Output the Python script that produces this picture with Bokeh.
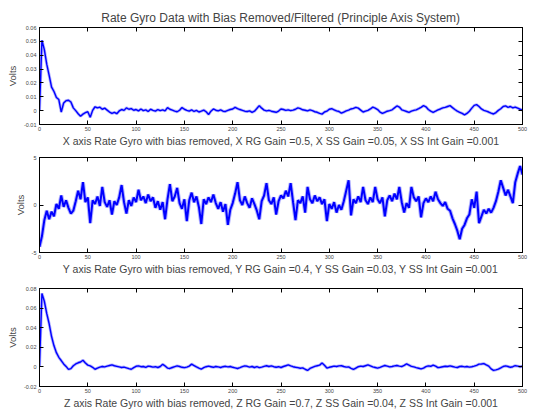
import numpy as np
from bokeh.plotting import figure
from bokeh.layouts import column
from bokeh.models import LinearAxis, FixedTicker, CustomJSTickFormatter, Label, Range1d
from bokeh.embed import file_html
from bokeh.resources import INLINE

# ---------------- data ----------------
t_start, t_step = 0.0, 2.5   # sample grid of the series below

x_gyro = [
    0.0000, 0.0508, 0.0440, 0.0335, 0.0255, 0.0170, 0.0138, 0.0095, 0.0080, -0.0010,
    0.0055, 0.0072, 0.0075, 0.0062, 0.0020, 0.0000, -0.0022, -0.0040, -0.0025, -0.0015,
    -0.0008, -0.0048, 0.0002, 0.0028, 0.0020, 0.0025, 0.0010, 0.0018, 0.0004, -0.0010,
    -0.0020, -0.0012, -0.0022, -0.0002, 0.0008, 0.0002, 0.0020, 0.0010, 0.0015, 0.0003,
    0.0008, -0.0002, 0.0012, 0.0000, 0.0006, -0.0006, 0.0010, 0.0002, -0.0004, 0.0008,
    0.0000, 0.0006, -0.0002, 0.0022, 0.0010, 0.0004, -0.0003, -0.0008, 0.0003, 0.0022,
    0.0010, 0.0002, -0.0004, 0.0005, -0.0006, 0.0002, -0.0010, -0.0004, 0.0004, -0.0008,
    -0.0028, -0.0004, 0.0012, 0.0003, -0.0002, 0.0005, -0.0004, -0.0006, 0.0002, 0.0008,
    0.0012, 0.0024, 0.0015, 0.0008, 0.0002, -0.0004, -0.0006, -0.0002, -0.0012, -0.0004,
    0.0015, 0.0036, 0.0018, 0.0004, -0.0002, 0.0002, -0.0004, -0.0008, -0.0012, -0.0003,
    0.0012, 0.0008, 0.0002, 0.0006, 0.0000, 0.0004, 0.0010, 0.0020, 0.0015, 0.0006,
    0.0003, -0.0002, 0.0005, 0.0000, -0.0008, -0.0012, -0.0020, -0.0025, -0.0010, -0.0004,
    0.0010, 0.0014, 0.0006, -0.0002, -0.0006, -0.0018, -0.0010, -0.0002, 0.0004, 0.0012,
    0.0016, 0.0024, 0.0018, 0.0004, -0.0010, -0.0004, 0.0002, 0.0012, 0.0025, 0.0018,
    0.0008, -0.0010, -0.0020, -0.0012, -0.0004, 0.0000, 0.0006, 0.0020, 0.0034, 0.0026,
    0.0006, 0.0000, -0.0006, -0.0012, -0.0004, 0.0002, 0.0006, 0.0014, 0.0024, 0.0036,
    0.0028, 0.0008, -0.0004, -0.0012, -0.0004, 0.0006, 0.0012, 0.0020, 0.0024, 0.0030,
    0.0036, 0.0022, 0.0008, -0.0004, -0.0012, -0.0020, -0.0030, -0.0020, -0.0004, 0.0018,
    0.0038, 0.0043, 0.0030, 0.0012, 0.0002, -0.0004, -0.0010, -0.0018, -0.0024, -0.0014,
    0.0002, 0.0014, 0.0030, 0.0034, 0.0024, 0.0030, 0.0020, 0.0026, 0.0018, 0.0010,
    0.0004,
]

# Y axis values in units of 1e-3 V (axis shows "x 10^-3")
y_gyro = [
    -4.4, -3.3, -1.6, -0.6, -1.5, -0.7, -1.2, 0.1, -0.4, 1.0,
    -0.2, 0.5, -0.3, -0.9, -0.6, 0.4, 1.5, 0.6, 2.4, 0.3,
    0.8, -1.9, 0.5, 0.1, 0.9, -0.1, 1.9, 0.3, -0.2, 0.5,
    -1.0, 0.4, 0.0, 0.8, 2.1, 0.3, -0.9, 0.5, -0.1, 0.8,
    0.3, 1.6, 0.5, 0.9, 0.2, 1.1, 0.4, 0.8, -0.3, 0.4,
    -0.5, 0.3, -1.5, 0.6, 2.2, 0.4, 0.9, 1.8, 0.2, -0.4,
    0.6, -1.7, 0.5, 1.3, 0.3, 0.9, -0.2, -2.0, 0.6, 0.1,
    0.8, 0.3, 1.1, 0.2, -0.4, 0.3, -0.7, 0.1, -2.1, -0.5,
    0.2, 1.2, 2.4, 0.5, 0.0, 0.9, 0.2, -0.3, 0.7, 0.1,
    -0.6, -1.5, 0.4, 1.0, 2.3, 0.5, 0.1, 0.8, -1.0, 0.4,
    1.0, 0.7, 1.5, 0.9, 2.3, 0.3, -1.6, 0.5, 0.2, 0.9,
    -0.8, 1.9, 0.6, 0.2, 1.0, 0.4, 0.8, 0.1, 0.6, -1.7,
    0.1, -0.4, 0.3, -0.8, 0.0, -0.5, 0.4, 1.5, 2.6, -1.1,
    0.6, 0.2, 0.9, 0.3, 1.9, 0.5, 0.1, 0.8, 0.3, 1.9,
    0.6, 0.2, 0.8, -1.2, 0.5, 1.0, 0.4, 1.2, 0.6, 1.9,
    0.3, -0.8, 0.2, -0.3, 1.9, 0.8, 0.4, 0.9, -1.3, 0.2,
    0.7, 0.3, 0.9, 0.4, 1.4, 0.6, 0.2, -0.1, 0.3, -0.4,
    -0.6, -1.4, -2.0, -2.7, -3.6, -2.5, -2.1, -1.4, -1.0, 0.6,
    -0.3, 1.4, -1.9, -1.2, -0.5, -0.9, -0.4, -0.8, -0.3, 0.4,
    1.4, 2.6, 1.8, 1.0, 1.6, 0.9, 0.2, 2.4, 3.3, 4.1,
    3.2,
]

z_gyro = [
    0.0000, 0.0750, 0.0670, 0.0545, 0.0440, 0.0310, 0.0215, 0.0145, 0.0098, 0.0065,
    0.0030, 0.0005, -0.0025, -0.0018, 0.0012, 0.0030, 0.0042, 0.0050, 0.0068, 0.0040,
    0.0018, 0.0010, -0.0004, -0.0024, -0.0012, -0.0002, 0.0004, 0.0000, 0.0008, 0.0014,
    0.0020, 0.0012, 0.0006, 0.0000, -0.0006, -0.0002, -0.0010, -0.0018, -0.0024, -0.0008,
    0.0006, 0.0010, 0.0002, 0.0004, -0.0004, 0.0008, 0.0004, -0.0002, 0.0002, -0.0006,
    0.0004, 0.0026, 0.0010, -0.0012, -0.0016, -0.0006, 0.0002, 0.0010, 0.0004, -0.0004,
    -0.0008, -0.0002, 0.0008, 0.0028, 0.0014, 0.0000, -0.0012, -0.0022, -0.0008, 0.0002,
    0.0008, 0.0002, -0.0004, 0.0004, 0.0000, -0.0006, 0.0002, 0.0006, 0.0000, 0.0004,
    -0.0004, -0.0010, -0.0016, -0.0008, 0.0002, 0.0010, 0.0006, -0.0002, 0.0004, -0.0006,
    0.0002, -0.0008, -0.0002, 0.0006, 0.0012, 0.0004, 0.0010, 0.0002, -0.0004, 0.0002,
    -0.0006, 0.0004, 0.0012, 0.0020, 0.0010, 0.0002, -0.0004, -0.0008, -0.0014, -0.0010,
    -0.0024, -0.0036, -0.0016, -0.0004, 0.0006, 0.0012, 0.0018, 0.0040, 0.0016, -0.0012,
    -0.0004, 0.0002, 0.0008, 0.0004, 0.0010, 0.0012, 0.0004, -0.0002, 0.0000, -0.0014,
    -0.0026, -0.0012, 0.0002, 0.0008, 0.0004, 0.0012, 0.0020, 0.0010, 0.0000, -0.0006,
    -0.0012, -0.0004, 0.0006, 0.0014, 0.0008, 0.0000, 0.0004, 0.0010, 0.0014, 0.0008,
    0.0004, 0.0016, 0.0030, 0.0018, 0.0006, 0.0000, -0.0008, -0.0014, -0.0020, -0.0012,
    0.0002, 0.0010, 0.0006, 0.0018, 0.0008, -0.0008, -0.0004, 0.0002, 0.0006, 0.0004,
    0.0010, 0.0004, -0.0002, -0.0006, 0.0004, 0.0006, 0.0000, 0.0004, -0.0002, 0.0002,
    0.0008, 0.0016, 0.0028, 0.0030, 0.0034, 0.0020, 0.0008, -0.0020, -0.0036, -0.0030,
    -0.0022, -0.0010, 0.0004, 0.0010, 0.0004, -0.0004, 0.0002, 0.0012, 0.0008, 0.0002,
    0.0006,
]

x_ticks = [0, 50, 100, 150, 200, 250, 300, 350, 400, 450, 500]
y1_ticks = [-0.01, 0, 0.01, 0.02, 0.03, 0.04, 0.05, 0.06]
y2_ticks = [-5, 0, 5]
y3_ticks = [-0.02, 0, 0.02, 0.04, 0.06, 0.08]

main_title = "Rate Gyro Data with Bias Removed/Filtered (Principle Axis System)"
xlabels = [
    "X axis Rate Gyro with bias removed, X RG Gain =0.5, X SS Gain =0.05, X SS Int Gain =0.001",
    "Y axis Rate Gyro with bias removed, Y RG Gain =0.4, Y SS Gain =0.03, Y SS Int Gain =0.001",
    "Z axis Rate Gyro with bias removed, Z RG Gain =0.7, Z SS Gain =0.04, Z SS Int Gain =0.001",
]
ylabel = "Volts"

FONT = "Liberation Sans"
t = t_start + t_step * np.arange(len(x_gyro))

fmt_code = "return String(parseFloat(tick.toFixed(6)));"


def style_axis(ax):
    ax.major_tick_in = 4
    ax.major_tick_out = 0
    ax.minor_tick_in = 4
    ax.minor_tick_out = 0
    ax.axis_line_color = "black"
    ax.major_tick_line_color = "black"
    ax.minor_tick_line_color = "black"


def make_panel(ys, yr, yticks, xlabel, height, top, bottom, title=None, lw=1.4, halo=3.0):
    p = figure(width=543, height=height, output_backend="svg", toolbar_location=None,
               x_range=Range1d(0, 500), y_range=Range1d(*yr),
               min_border_left=39, min_border_right=21,
               min_border_top=top, min_border_bottom=bottom,
               x_axis_location=None, y_axis_location=None)
    p.xgrid.visible = False
    p.ygrid.visible = False
    p.outline_line_color = "black"
    p.outline_line_width = 1
    p.background_fill_color = "white"
    p.border_fill_color = "white"

    if title:
        p.title.text = title
        p.title.text_font = FONT
        p.title.text_font_size = "12px"
        p.title.text_font_style = "normal"
        p.title.align = "center"
        p.title.standoff = 5
        p.title.offset = 0

    p.line(t, ys, line_color="#0000ff", line_width=halo, line_alpha=0.3)
    p.line(t, ys, line_color="#0000ff", line_width=lw)

    # bottom axis with labels
    ax = LinearAxis(ticker=FixedTicker(ticks=x_ticks),
                    formatter=CustomJSTickFormatter(code=fmt_code))
    style_axis(ax)
    ax.major_label_standoff = 2
    ax.major_label_text_font = FONT
    ax.major_label_text_font_size = "5.5px"
    ax.axis_label = xlabel
    ax.axis_label_text_font = FONT
    ax.axis_label_text_font_size = "10.5px"
    ax.axis_label_text_font_style = "normal"
    ax.axis_label_standoff = 1
    p.add_layout(ax, "below")

    # top: tick marks only (minor ticks carry no labels)
    ax = LinearAxis(ticker=FixedTicker(ticks=[], minor_ticks=x_ticks))
    style_axis(ax)
    p.add_layout(ax, "above")

    # left axis with labels
    ax = LinearAxis(ticker=FixedTicker(ticks=yticks),
                    formatter=CustomJSTickFormatter(code=fmt_code))
    style_axis(ax)
    ax.major_label_standoff = 3
    ax.major_label_text_font = FONT
    ax.major_label_text_font_size = "5.5px"
    ax.axis_label = ylabel
    ax.axis_label_text_font = FONT
    ax.axis_label_text_font_size = "9.5px"
    ax.axis_label_text_font_style = "normal"
    ax.axis_label_standoff = 3
    p.add_layout(ax, "left")

    # right: tick marks only
    ax = LinearAxis(ticker=FixedTicker(ticks=[], minor_ticks=yticks))
    style_axis(ax)
    p.add_layout(ax, "right")
    return p


p1 = make_panel(x_gyro, (-0.01, 0.06), y1_ticks, xlabels[0], 149, 27, 21, title=main_title)
p2 = make_panel(y_gyro, (-5, 5), y2_ticks, xlabels[1], 128, 8, 20, lw=2.0, halo=4.0)
p2.add_layout(Label(x=0, y=5, text="x 10\u207b\u00b3", text_font=FONT, text_font_size="5.5px",
                    text_baseline="bottom", x_offset=1, y_offset=1))
p3 = make_panel(z_gyro, (-0.02, 0.08), y3_ticks, xlabels[2], 134, 11, 25)

layout = column(p1, p2, p3, spacing=0)
open("out.html", "w").write(file_html(layout, INLINE))
